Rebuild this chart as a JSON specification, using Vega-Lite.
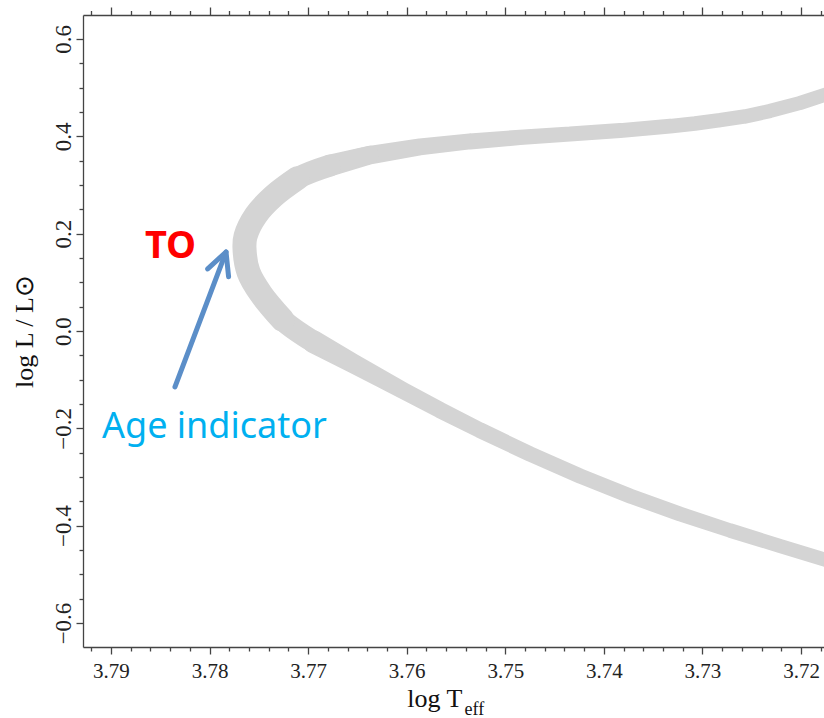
{
  "$schema": "https://vega.github.io/schema/vega-lite/v6.json",
  "width": 741,
  "height": 632,
  "autosize": {"type": "none"},
  "padding": {"left": 83, "top": 15, "right": 0, "bottom": 71},
  "background": "white",
  "config": {
    "view": {"stroke": null},
    "axis": {
      "grid": false,
      "domainColor": "#444444",
      "tickColor": "#444444",
      "domainWidth": 1.3,
      "tickWidth": 1.3,
      "labelFont": "Liberation Serif",
      "titleFont": "Liberation Serif",
      "labelColor": "#222222",
      "titleColor": "#111111",
      "titleFontWeight": "normal",
      "labelFlush": false,
      "labelOverlap": false
    }
  },
  "data": {
    "values": [
      {"branch": "upper", "logT": 3.71746, "logL": 0.4862},
      {"branch": "upper", "logT": 3.72010, "logL": 0.4685},
      {"branch": "upper", "logT": 3.72314, "logL": 0.4521},
      {"branch": "upper", "logT": 3.72568, "logL": 0.4408},
      {"branch": "upper", "logT": 3.72822, "logL": 0.4332},
      {"branch": "upper", "logT": 3.73075, "logL": 0.4264},
      {"branch": "upper", "logT": 3.73329, "logL": 0.4208},
      {"branch": "upper", "logT": 3.73836, "logL": 0.4118},
      {"branch": "upper", "logT": 3.74343, "logL": 0.4048},
      {"branch": "upper", "logT": 3.74851, "logL": 0.3978},
      {"branch": "upper", "logT": 3.75358, "logL": 0.3896},
      {"branch": "upper", "logT": 3.75865, "logL": 0.3783},
      {"branch": "upper", "logT": 3.76372, "logL": 0.3615},
      {"branch": "upper", "logT": 3.76778, "logL": 0.3401},
      {"branch": "upper", "logT": 3.77108, "logL": 0.314},
      {"branch": "upper", "logT": 3.77351, "logL": 0.277},
      {"branch": "upper", "logT": 3.77529, "logL": 0.238},
      {"branch": "upper", "logT": 3.77635, "logL": 0.195},
      {"branch": "lower", "logT": 3.77646, "logL": 0.171},
      {"branch": "lower", "logT": 3.77605, "logL": 0.121},
      {"branch": "lower", "logT": 3.77478, "logL": 0.076},
      {"branch": "lower", "logT": 3.77260, "logL": 0.023},
      {"branch": "lower", "logT": 3.76941, "logL": -0.0226},
      {"branch": "lower", "logT": 3.76545, "logL": -0.0665},
      {"branch": "lower", "logT": 3.76271, "logL": -0.0967},
      {"branch": "lower", "logT": 3.76038, "logL": -0.1222},
      {"branch": "lower", "logT": 3.75662, "logL": -0.1625},
      {"branch": "lower", "logT": 3.75256, "logL": -0.2040},
      {"branch": "lower", "logT": 3.74749, "logL": -0.2527},
      {"branch": "lower", "logT": 3.74242, "logL": -0.2979},
      {"branch": "lower", "logT": 3.73735, "logL": -0.3390},
      {"branch": "lower", "logT": 3.73228, "logL": -0.3760},
      {"branch": "lower", "logT": 3.72720, "logL": -0.4099},
      {"branch": "lower", "logT": 3.72213, "logL": -0.4417},
      {"branch": "lower", "logT": 3.71746, "logL": -0.4705}
    ]
  },
  "resolve": {"axis": {"x": "independent", "y": "independent"}},
  "layer": [
    {
      "transform": [{"filter": "datum.logT < 3.7705"}],
      "mark": {"type": "trail", "color": "#d4d4d4", "clip": true},
      "encoding": {
        "x": {
          "field": "logT", "type": "quantitative",
          "scale": {"domain": [3.71767, 3.79284], "reverse": true, "nice": false, "zero": false},
          "axis": {
            "orient": "bottom",
            "values": [3.72, 3.73, 3.74, 3.75, 3.76, 3.77, 3.78, 3.79],
            "format": ".2f",
            "tickSize": 7,
            "labelFontSize": 21,
            "labelPadding": 6,
            "title": "log T",
            "titleFontSize": 26,
            "titleX": 379,
            "titleY": 59,
            "titleAlign": "right",
            "titleBaseline": "alphabetic"
          }
        },
        "y": {
          "field": "logL", "type": "quantitative",
          "scale": {"domain": [-0.6493, 0.6493], "nice": false, "zero": false},
          "axis": {
            "orient": "left",
            "values": [-0.6, -0.4, -0.2, 0, 0.2, 0.4, 0.6],
            "format": ".1f",
            "tickSize": 7,
            "labelAngle": 270,
            "labelAlign": "center",
            "labelBaseline": "alphabetic",
            "labelFontSize": 23,
            "labelPadding": 6,
            "title": "log L / L⊙",
            "titleFontSize": 26,
            "titleAngle": 270,
            "titleX": -51,
            "titleY": 316,
            "titleAlign": "center",
            "titleBaseline": "alphabetic"
          }
        },
        "size": {
          "field": "logT", "type": "quantitative", "legend": null,
          "scale": {"type": "linear", "domain": [3.7175, 3.750, 3.760, 3.765, 3.768, 3.771, 3.775], "range": [14, 15.5, 17, 19, 22, 24, 25], "clamp": true}
        },
        "detail": {"field": "branch", "type": "nominal"},
        "order": {"value": null}
      }
    },
    {
      "transform": [{"filter": "datum.logT >= 3.7637"}],
      "mark": {"type": "line", "color": "#d4d4d4", "strokeWidth": 18, "interpolate": "catmull-rom", "strokeCap": "round", "strokeJoin": "round", "clip": true},
      "encoding": {
        "x": {
          "field": "logT", "type": "quantitative",
          "axis": {
            "orient": "top",
            "values": [3.718, 3.722, 3.724, 3.726, 3.728, 3.732, 3.734, 3.736, 3.738, 3.742, 3.744, 3.746, 3.748, 3.752, 3.754, 3.756, 3.758, 3.762, 3.764, 3.766, 3.768, 3.772, 3.774, 3.776, 3.778, 3.782, 3.784, 3.786, 3.788, 3.792],
            "tickSize": 4.5,
            "labels": false,
            "domain": false,
            "title": null
          }
        },
        "y": {"field": "logL", "type": "quantitative", "axis": null},
        "order": {"value": null}
      }
    },
    {
      "transform": [{"filter": "datum.logT >= 3.7675"}],
      "mark": {"type": "line", "color": "#d4d4d4", "strokeWidth": 22, "interpolate": "catmull-rom", "strokeCap": "round", "strokeJoin": "round", "clip": true},
      "encoding": {
        "x": {"field": "logT", "type": "quantitative", "axis": null},
        "y": {"field": "logL", "type": "quantitative", "axis": null},
        "order": {"value": null}
      }
    },
    {
      "transform": [{"filter": "datum.logT >= 3.7705"}],
      "mark": {"type": "line", "color": "#d4d4d4", "strokeWidth": 24, "interpolate": "catmull-rom", "strokeCap": "round", "strokeJoin": "round", "clip": true},
      "encoding": {
        "x": {"field": "logT", "type": "quantitative", "axis": null},
        "y": {"field": "logL", "type": "quantitative", "axis": null},
        "order": {"value": null}
      }
    },
    {
      "data": {"values": [{}]},
      "mark": {"type": "rule", "color": "#5b8ec8", "strokeWidth": 5, "strokeCap": "round"},
      "encoding": {
        "x": {
          "datum": 3.78351, "type": "quantitative",
          "axis": {
            "orient": "bottom",
            "values": [3.718, 3.722, 3.724, 3.726, 3.728, 3.732, 3.734, 3.736, 3.738, 3.742, 3.744, 3.746, 3.748, 3.752, 3.754, 3.756, 3.758, 3.762, 3.764, 3.766, 3.768, 3.772, 3.774, 3.776, 3.778, 3.782, 3.784, 3.786, 3.788, 3.792],
            "tickSize": 4,
            "labels": false,
            "domain": false,
            "title": "eff",
            "titleFontSize": 18,
            "titleX": 381,
            "titleY": 67,
            "titleAlign": "left",
            "titleBaseline": "alphabetic"
          }
        },
        "x2": {"datum": 3.77833},
        "y": {
          "datum": -0.115, "type": "quantitative",
          "axis": {
            "orient": "left",
            "values": [-0.55, -0.5, -0.45, -0.35, -0.3, -0.25, -0.15, -0.1, -0.05, 0.05, 0.1, 0.15, 0.25, 0.3, 0.35, 0.45, 0.5, 0.55],
            "tickSize": 4,
            "labels": false,
            "domain": false,
            "title": null
          }
        },
        "y2": {"datum": 0.1624}
      }
    },
    {
      "data": {"values": [{}]},
      "mark": {"type": "point", "shape": "M -0.5 1 L 0 0 L 0.5 1", "filled": false, "size": 2000, "angle": 20.7, "strokeWidth": 5, "color": "#5b8ec8", "opacity": 1, "strokeJoin": "round", "strokeCap": "round"},
      "encoding": {
        "x": {
          "datum": 3.77833, "type": "quantitative",
          "axis": {
            "orient": "top",
            "values": [3.72, 3.73, 3.74, 3.75, 3.76, 3.77, 3.78, 3.79],
            "tickSize": 8,
            "labels": false,
            "title": null
          }
        },
        "y": {"datum": 0.1624, "type": "quantitative", "axis": null}
      }
    },
    {
      "data": {"values": [{}]},
      "mark": {"type": "text", "text": "TO", "font": "Noto Sans", "fontWeight": "bold", "fontSize": 38, "color": "#ff0000", "align": "center", "baseline": "alphabetic"},
      "encoding": {
        "x": {"datum": 3.78396, "type": "quantitative", "axis": null},
        "y": {"datum": 0.150, "type": "quantitative", "axis": null}
      }
    },
    {
      "data": {"values": [{}]},
      "mark": {"type": "text", "text": "Age indicator", "font": "Noto Sans", "fontSize": 36, "color": "#00b0f0", "align": "left", "baseline": "alphabetic"},
      "encoding": {
        "x": {"datum": 3.79091, "type": "quantitative", "axis": null},
        "y": {"datum": -0.2198, "type": "quantitative", "axis": null}
      }
    }
  ]
}
